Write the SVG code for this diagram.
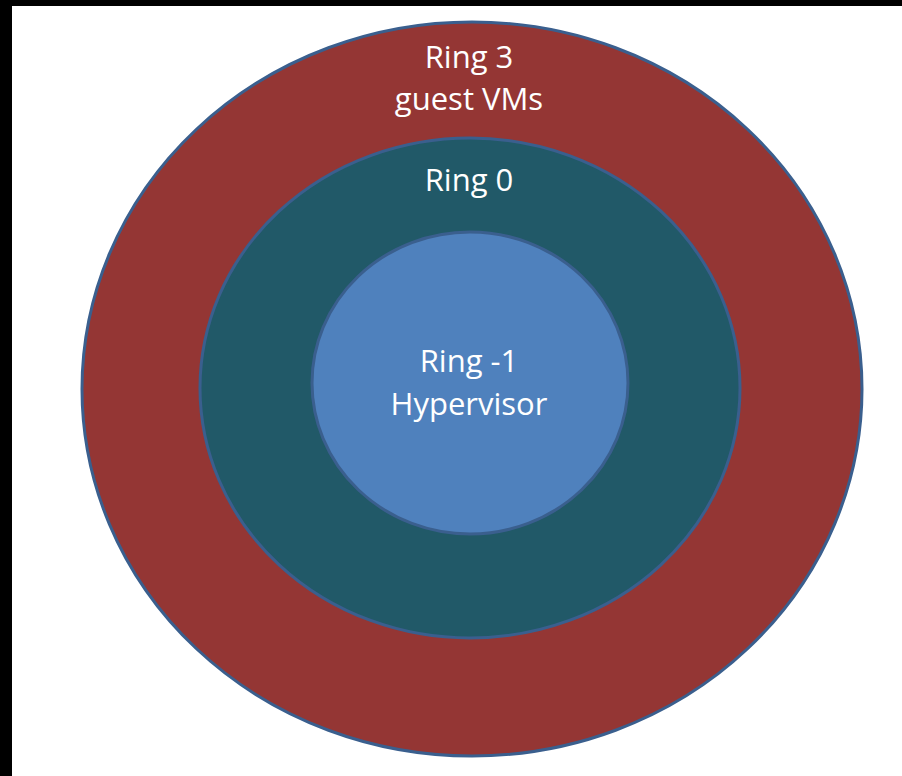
<svg xmlns="http://www.w3.org/2000/svg" width="902" height="776" viewBox="0 0 902 776">
<style>
.ring{stroke:#3A5F8E;stroke-width:3}
.lbl{font-family:"Open Sans","Liberation Sans",sans-serif;font-size:31px;fill:#FFFFFF;text-anchor:middle}
</style>
<rect x="0" y="0" width="902" height="776" fill="#000000"/>
<rect x="12" y="6" width="890" height="770" fill="#FFFFFF"/>
<g id="ring3">
<ellipse class="ring" cx="472" cy="389" rx="390" ry="367" fill="#943634"/>
<text class="lbl" x="469" y="68">Ring 3</text>
<text class="lbl" x="469" y="110">guest VMs</text>
</g>
<g id="ring0">
<ellipse class="ring" cx="470" cy="388" rx="270" ry="250" fill="#215968"/>
<text class="lbl" x="469" y="191">Ring 0</text>
</g>
<g id="ringm1">
<ellipse class="ring" cx="470" cy="383" rx="158" ry="151" fill="#4F81BD"/>
<text class="lbl" x="469" y="372">Ring -1</text>
<text class="lbl" x="469" y="415">Hypervisor</text>
</g>
</svg>
